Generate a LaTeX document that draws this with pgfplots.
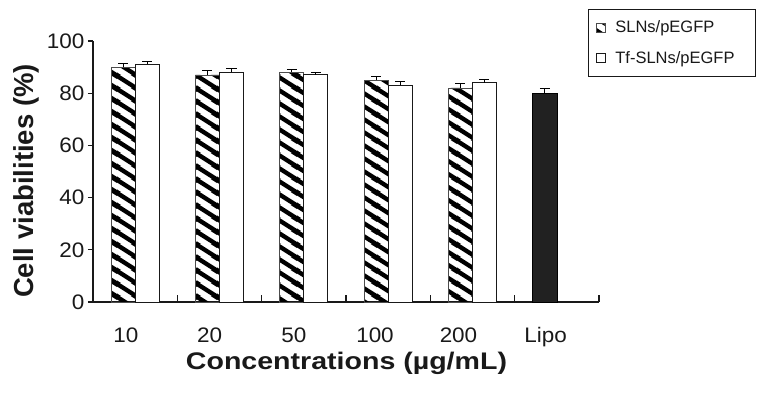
\documentclass[border=0pt]{standalone}
\usepackage{fontspec}
\setmainfont{Liberation Sans}
\newfontfamily\tickfont[FakeStretch=1.07]{Liberation Sans}
\newfontfamily\xlabfont[FakeStretch=1.19]{Liberation Sans}
\usepackage{pgfplots}
\pgfplotsset{compat=1.18}
\usetikzlibrary{patterns}

\pgfdeclarepatternformonly{hatchbar}{\pgfpointorigin}{\pgfpoint{19.5bp}{13bp}}{\pgfpoint{19.5bp}{13bp}}{%
 \pgfsetlinewidth{4.6bp}%
 \pgfpathmoveto{\pgfpoint{-19.5bp}{26bp}}\pgfpathlineto{\pgfpoint{39bp}{-13bp}}%
 \pgfpathmoveto{\pgfpoint{-19.5bp}{39bp}}\pgfpathlineto{\pgfpoint{39bp}{0bp}}%
 \pgfpathmoveto{\pgfpoint{-19.5bp}{13bp}}\pgfpathlineto{\pgfpoint{39bp}{-26bp}}%
 \pgfusepath{stroke}%
}

\begin{document}
\begin{tikzpicture}
\path[use as bounding box] (-93bp,-98bp) rectangle (676bp,302bp);
\begin{axis}[
  width=506bp, height=261bp, scale only axis,
  xmin=-0.5, xmax=5.5, ymin=0, ymax=100,
  axis lines*=left,
  axis line style={line width=1.3bp, black!90},
  tick align=outside,
  major tick length=5bp, minor tick length=7bp,
  every tick/.style={line width=1.2bp, black!90},
  xtick={-0.110,0.884,1.883,2.844,3.834,4.868},
  xticklabels={10,20,50,100,200,Lipo},
  minor xtick={0.5,1.5,2.5,3.5,4.5,5.5},
  major x tick style={draw=none},
  minor x tick style={yshift=7bp},
  ytick={0,20,40,60,80,100},
  /pgf/number format/assume math mode=true,
  tick label style={font=\tickfont\fontsize{21bp}{25bp}\selectfont, text=black!90},
  xticklabel style={yshift=-17bp},
  xlabel={\xlabfont\bfseries Concentrations (µg/mL)},
  xlabel style={at={(axis description cs:0.501,-0.258)}, anchor=base, font=\fontsize{24bp}{28bp}\selectfont, text=black!90},
  ylabel={\bfseries Cell viabilities (\%)},
  ylabel style={at={(axis description cs:-0.118,0.4636)}, anchor=base, font=\fontsize{27.5bp}{32bp}\selectfont, text=black!90},
  legend style={at={(axis description cs:0.978,1.1226)}, anchor=north west,
    draw=black!90, line width=1bp, font=\fontsize{16.5bp}{19bp}\selectfont,
    inner xsep=3bp, inner ysep=9.5bp, row sep=13bp,
    cells={anchor=west}, text=black!90},
  legend image code/.code={\path[draw=none, fill=none, pattern=none] (0bp,0bp) -- (22bp,0bp); \draw[#1, line width=0.8bp] (5bp,-4.5bp) rectangle (14bp,4.5bp);},
  error bars/y dir=plus, error bars/y explicit,
  error bars/error mark=|,
  error bars/error bar style={line width=1bp, black},
  error bars/error mark options={line width=1bp, black, mark size=5bp},
]
\addplot[ybar, bar width=24bp, bar shift=0pt, draw=black!70, line width=0.8bp, pattern=hatchbar]
  coordinates {(-0.1423,90) +- (0,1.5) (0.8577,87) +- (0,1.6) (1.8577,88) +- (0,1.0) (2.8577,85) +- (0,1.5) (3.8577,82) +- (0,1.6)};
\addlegendentry{\makebox[135bp][l]{SLNs/pEGFP}}
\addplot[ybar, bar width=24bp, bar shift=0pt, draw=black!90, line width=0.9bp, fill=white]
  coordinates {(0.1423,91) +- (0,1.0) (1.1423,88) +- (0,1.4) (2.1423,87) +- (0,1.0) (3.1423,83) +- (0,1.3) (4.1423,84) +- (0,1.1)};
\addlegendentry{\makebox[135bp][l]{Tf-SLNs/pEGFP}}
\addplot[ybar, bar width=25bp, bar shift=0pt, draw=black, line width=0.8bp, fill=black!87, forget plot]
  coordinates {(4.8577,80) +- (0,1.8)};
\end{axis}
\end{tikzpicture}
\end{document}
